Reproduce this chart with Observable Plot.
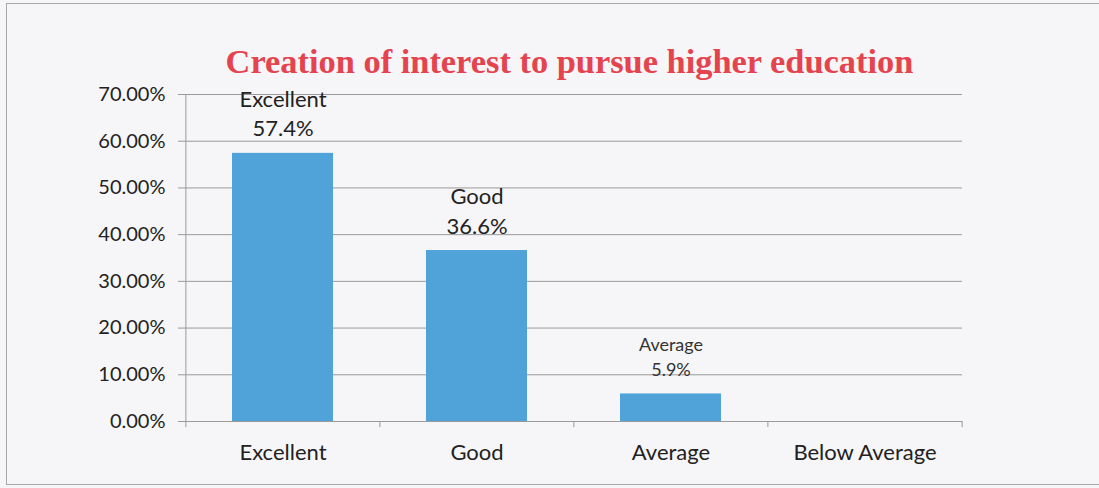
<!DOCTYPE html>
<html><head><meta charset="utf-8">
<script src="https://cdn.jsdelivr.net/npm/d3@7"></script>
<script src="https://cdn.jsdelivr.net/npm/@observablehq/plot@0.6"></script>
<style>
body{margin:0;background:#f6f5f7;}
#wrap{position:relative;width:1099px;height:488px;overflow:hidden;background:#f6f5f7;}
#frame{position:absolute;left:6px;top:3px;width:1093px;height:482px;border-left:1px solid #a8a8a8;border-top:1px solid #a8a8a8;border-bottom:1px solid #a8a8a8;box-sizing:border-box;}
#title{position:absolute;left:20px;top:44px;width:1099px;text-align:center;font-family:"Liberation Serif","Times New Roman",serif;font-weight:bold;color:#e5434d;font-size:34.4px;line-height:34px;white-space:nowrap;}
#chart{position:absolute;left:0;top:80px;}
</style></head>
<body>
<div id="wrap">
  <div id="frame"></div>
  <div id="title">Creation of interest to pursue higher education</div>
  <div id="chart"></div>
</div>
<script>
const categories = ["Excellent", "Good", "Average", "Below Average"];
const values = [57.4, 36.6, 5.9, 0];
const valueLabels = ["57.4%", "36.6%", "5.9%", ""];
const labelSizes = [22, 22, 18, 18];
const yTicks = [0, 10, 20, 30, 40, 50, 60, 70];

const data = categories.map((c, i) => ({category: c, value: values[i], label: values[i] > 0 ? c + "\n" + valueLabels[i] : "", size: labelSizes[i]}));

const W = 1099, H = 408;
const ml = 185, mr = 137, mt = 14, mb = 67;
const pInner = 0.48, pOuter = 0.24;
const step = (W - ml - mr) / (categories.length - pInner + 2 * pOuter);
const font = "Lato, 'Open Sans', sans-serif";

const chart = Plot.plot({
  width: W, height: H,
  marginLeft: ml, marginRight: mr, marginTop: mt, marginBottom: mb,
  style: {background: "transparent", fontFamily: font, color: "#222"},
  x: {domain: categories, paddingInner: pInner, paddingOuter: pOuter, label: null},
  y: {domain: [0, 70], label: null},
  marks: [
    Plot.gridY(yTicks, {stroke: "#9a9a9a", strokeOpacity: 1, strokeWidth: 1}),
    Plot.barY(data, {x: "category", y: "value", fill: "#4fa3d8"}),
    Plot.ruleX(categories, {x: d => d, dx: -step / 2, y1: 0, y2: -1.3, stroke: "#9a9a9a"}),
    Plot.ruleX(categories.slice(-1), {x: d => d, dx: step / 2, y1: 0, y2: -1.3, stroke: "#9a9a9a"}),
    Plot.ruleY([0], {stroke: "#9a9a9a"}),
    Plot.ruleX([0], {x: () => categories[0], dx: -step / 2, y1: 0, y2: 70, stroke: "#9a9a9a"}),
    Plot.axisY({ticks: yTicks, tickFormat: d => d.toFixed(2) + "%", tickSize: 7, tickPadding: 13, stroke: "#9a9a9a", fontSize: 20, label: null, anchor: "left"}),
    Plot.axisX({tickSize: 0, tickPadding: 23, fontSize: 22, label: null}),
    Plot.text(data.slice(0, 2), {x: "category", y: "value", text: "label", fontSize: "size", lineAnchor: "bottom", dy: -17, lineHeight: 1.35, fill: "#222"}),
    Plot.text(data.slice(2, 3), {x: "category", y: "value", text: "label", fontSize: "size", lineAnchor: "bottom", dy: -18, lineHeight: 1.4, fill: "#333"})
  ]
});
document.getElementById("chart").appendChild(chart);
</script>
</body></html>
